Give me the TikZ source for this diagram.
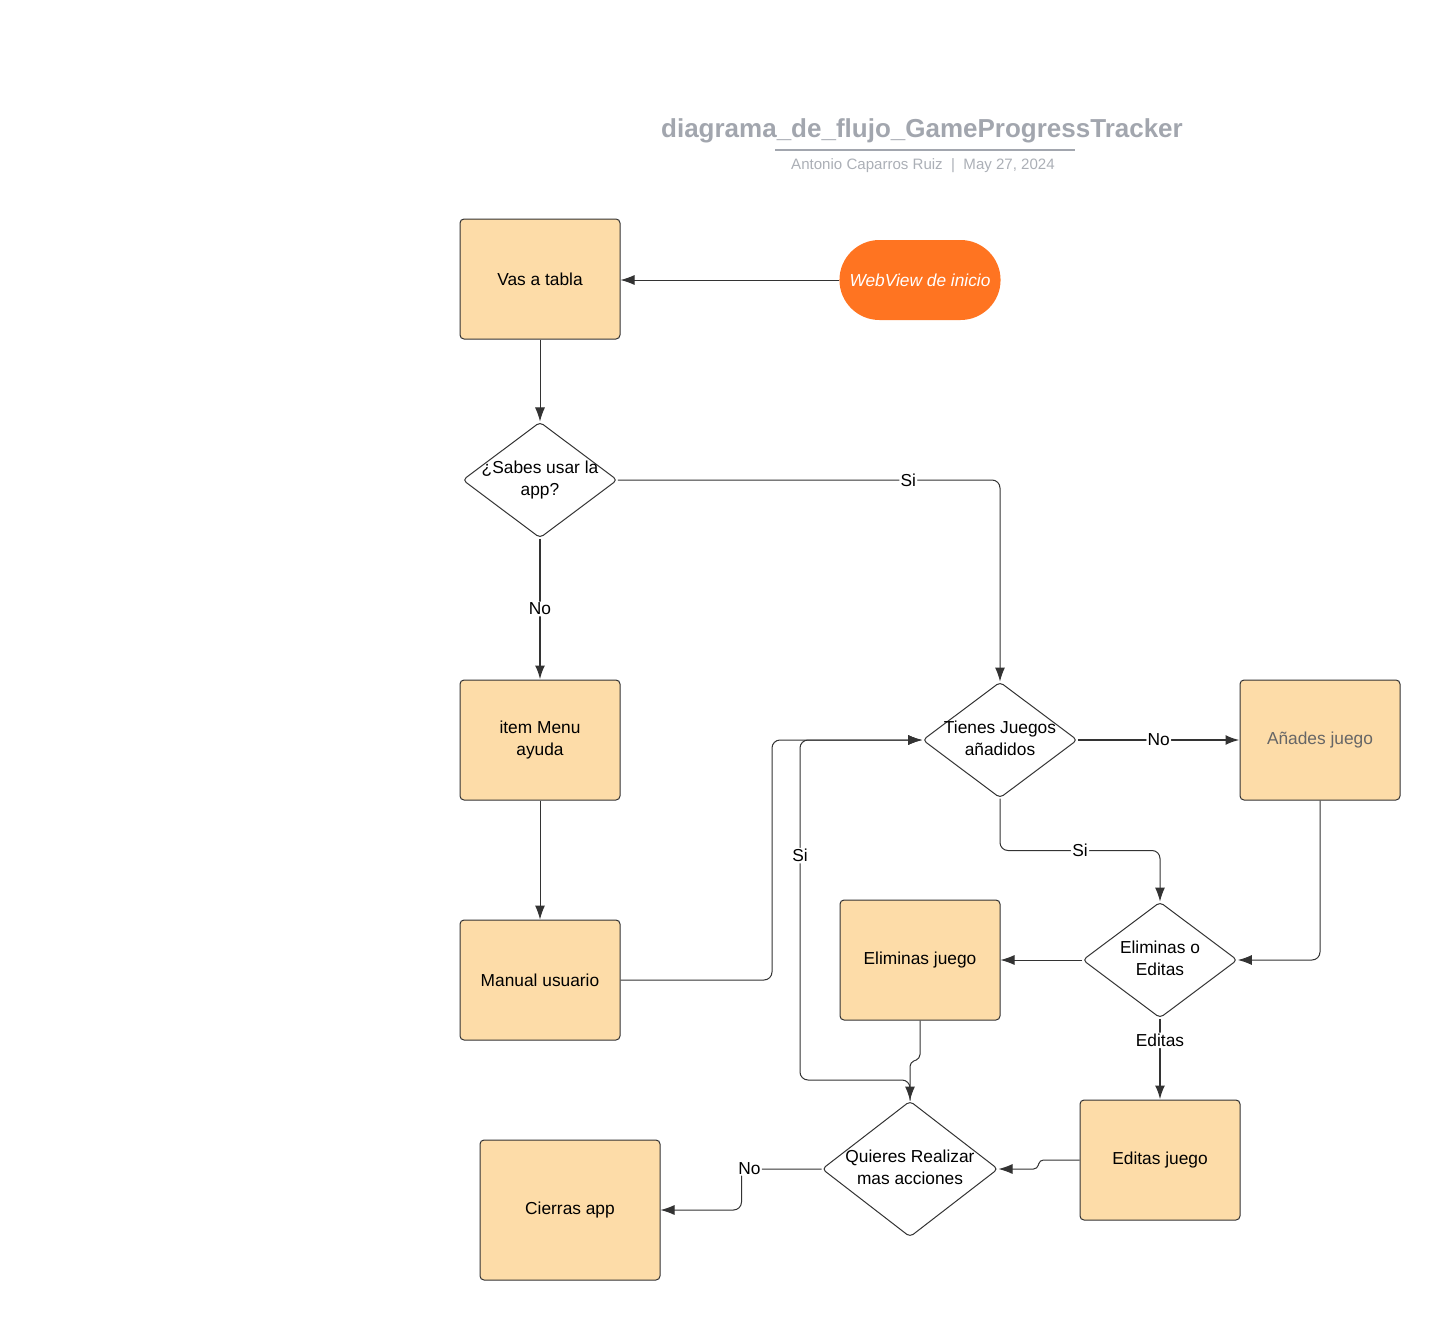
\documentclass[tikz,border=0pt]{standalone}
\usepackage{fontspec}
\setmainfont{Liberation Sans}
\usepackage{xcolor}
\usetikzlibrary{arrows.meta, positioning, shapes.geometric, shapes.misc, calc}

\definecolor{boxfill}{HTML}{FDDCA8}
\definecolor{linegrey}{HTML}{333333}
\definecolor{startorange}{HTML}{FF7421}
\definecolor{titlegrey}{HTML}{A2A6AE}

\newcommand{\dtext}[1]{\makebox[0pt]{\begin{tabular}{@{}c@{}}#1\end{tabular}}}

\begin{document}
\begin{tikzpicture}[
    x=0.75pt, y=-0.75pt,
    every node/.style={font=\fontsize{13}{16.5}\selectfont},
    process/.style={draw=linegrey, fill=boxfill, rectangle, rounded corners=3pt, line width=0.75pt, minimum width=120pt, minimum height=90pt, align=center},
    decision/.style={draw=linegrey, fill=white, diamond, rounded corners=3pt, line width=0.75pt, inner sep=0pt, minimum width=116pt, minimum height=87pt},
    start/.style={fill=startorange, rounded rectangle, minimum width=127.5pt, minimum height=60pt, text=white, font=\fontsize{13}{15}\selectfont\itshape},
    flow/.style={draw=linegrey, line width=0.75pt, rounded corners=6pt, -{Latex[length=10.5pt,width=7.5pt]}},
    flowthick/.style={flow, line width=1.5pt},
    lbl/.style={fill=white, inner sep=1pt}
]
    \path[use as bounding box] (0,0) rectangle (1440,1320);

    % Title
    \node[text=titlegrey, font=\fontsize{19.5}{22}\selectfont\bfseries] (title) at (922,131) {diagrama\_de\_flujo\_GameProgressTracker};
    \draw[titlegrey, line width=1.5pt] (775,150) -- (1075,150);
    \node[text=titlegrey!90, font=\fontsize{11.3}{13}\selectfont] (author) at (923,166) {Antonio Caparros Ruiz~~|~~May 27, 2024};

    % Nodes
    \node[start] (web) at (920,280) {WebView de inicio};
    \node[process] (tabla) at (540,279) {Vas a tabla};
    \node[decision] (sabe) at (540,480) {\dtext{¿Sabes usar la\\app?}};
    \node[process] (menu) at (540,740) {item Menu\\ayuda};
    \node[process] (manual) at (540,980) {Manual usuario};
    \node[decision] (tienes) at (1000,740) {\dtext{Tienes Juegos\\añadidos}};
    \node[process, text=black!60] (anade) at (1320,740) {Añades juego};
    \node[decision] (elige) at (1160,960) {\dtext{Eliminas o\\Editas}};
    \node[process] (elimina) at (920,960) {Eliminas juego};
    \node[process] (edita) at (1160,1160) {Editas juego};
    \node[decision, minimum width=132pt, minimum height=102pt] (mas) at (910,1169) {\dtext{Quieres Realizar\\mas acciones}};
    \node[process, minimum width=135pt, minimum height=105pt] (cierra) at (570,1210) {Cierras app};

    % Connectors
    \draw[flow] (web) -- (tabla.east |- web);
    \draw[flow] (tabla) -- (sabe);
    \draw[flow] (sabe.east) -| node[lbl, pos=0.38] {Si} (tienes.north);
    \draw[flowthick] (sabe.south) -- node[lbl] {No} (menu.north);
    \draw[flow] (menu) -- (manual);
    \draw[flow] (manual.east) -| (772,740) -- (tienes.west);
    \draw[flowthick] (tienes.east) -- node[lbl] {No} (anade.west);
    \draw[flow] (tienes.south) -- ++(0,52) -| node[lbl, pos=0.25] {Si} (elige.north);
    \draw[flow] (anade.south) |- (elige.east);
    \draw[flow] (elige.west) -- (elimina.east);
    \draw[flowthick] (elige.south) -- node[lbl, pos=0.27] {Editas} (edita.north);
    \draw[flow, rounded corners=3pt] (elimina.south) -- ++(0,38) -- ++(-10,4) -- (mas.north);
    \draw[flow] (mas.north) |- (800,1080) |- node[lbl, pos=0.33] {Si} (tienes.west);
    \draw[flow, rounded corners=3pt] (edita.west) -- ++(-40,0) -- ++(-2,9) -- (mas.east);
    \draw[flow] (mas.west) -- ++(-80,0) node[lbl, pos=0.9] {No} |- (cierra.east);

\end{tikzpicture}
\end{document}
